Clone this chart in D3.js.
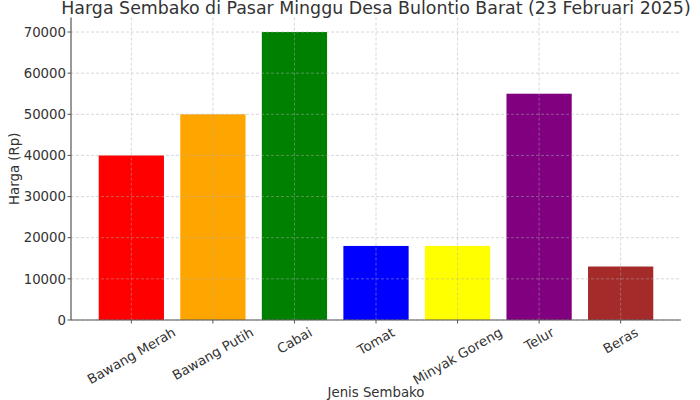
<!DOCTYPE html>
<html><head><meta charset="utf-8">
<script src="https://cdn.jsdelivr.net/npm/d3@7"></script>
<style>body{margin:0;background:#fff}svg{display:block}text{font-family:"DejaVu Sans",sans-serif;fill:#333}</style>
</head><body><svg id="c" width="700" height="400"></svg>
<script>
const categories = ["Bawang Merah","Bawang Putih","Cabai","Tomat","Minyak Goreng","Telur","Beras"];
const prices = [40000,50000,70000,18000,18000,55000,13000];
const colors = ["#FF0000","#FFA500","#008000","#0000FF","#FFFF00","#800080","#A52A2A"];
const yTicks = [0,10000,20000,30000,40000,50000,60000,70000];
const title = "Harga Sembako di Pasar Minggu Desa Bulontio Barat (23 Februari 2025)";

const svg = d3.select("#c");
const L = 71, R = 681, T = 17.6, B = 320;
const n = categories.length;
const x = d3.scaleLinear().domain([-0.74, n - 1 + 0.74]).range([L, R]);
const y = d3.scaleLinear().domain([0, 73500]).range([B, T]);
const bw = x(0.8) - x(0);

// bars
svg.append("g").selectAll("rect").data(prices).join("rect")
  .attr("x", (d,i) => x(i) - bw/2).attr("width", bw)
  .attr("y", d => y(d)).attr("height", d => B - y(d))
  .attr("fill", (d,i) => colors[i]);

// grid
const g = svg.append("g").attr("stroke", "#b0b0b0").attr("stroke-dasharray", "3,2").attr("stroke-width", 0.8).attr("opacity", 0.6);
yTicks.forEach(t => g.append("line").attr("x1", L).attr("x2", R).attr("y1", y(t)).attr("y2", y(t)));
categories.forEach((c,i) => g.append("line").attr("x1", x(i)).attr("x2", x(i)).attr("y1", T).attr("y2", B));

// spines
svg.append("line").attr("x1", L).attr("x2", L).attr("y1", T).attr("y2", B).attr("stroke", "#555").attr("stroke-width", 1.2);
svg.append("line").attr("x1", L).attr("x2", R).attr("y1", B).attr("y2", B).attr("stroke", "#555").attr("stroke-width", 1.2);

// y ticks
yTicks.forEach(t => {
  svg.append("line").attr("x1", L-3.5).attr("x2", L).attr("y1", y(t)).attr("y2", y(t)).attr("stroke", "#555");
  svg.append("text").attr("x", L-5).attr("y", y(t)).attr("dy", "0.35em").attr("text-anchor", "end")
    .attr("font-size", 13.3).text(t);
});

// x ticks
categories.forEach((c,i) => {
  svg.append("line").attr("x1", x(i)).attr("x2", x(i)).attr("y1", B).attr("y2", B+3.5).attr("stroke", "#555");
  const t = svg.append("text").attr("font-size", 13.3).attr("text-anchor", "middle").text(c);
  const w = t.node().getComputedTextLength();
  const h = 13.3 * 1.05;
  const a = Math.PI / 6;
  const bh = w * Math.sin(a) + h * Math.cos(a);
  const cx = x(i), cy = B + 5 + bh / 2;
  t.attr("x", cx).attr("y", cy).attr("dy", "0.35em").attr("transform", `rotate(-30,${cx},${cy})`);
});

// labels
svg.append("text").attr("x", (L+R)/2).attr("y", 397).attr("text-anchor", "middle").attr("font-size", 13.3).text("Jenis Sembako");
svg.append("text").attr("transform", `translate(19,${(T+B)/2}) rotate(-90)`).attr("text-anchor", "middle").attr("font-size", 13.3).text("Harga (Rp)");
svg.append("text").attr("x", (L+R)/2).attr("y", 14).attr("text-anchor", "middle").attr("font-size", 17.4).text(title);
</script></body></html>
